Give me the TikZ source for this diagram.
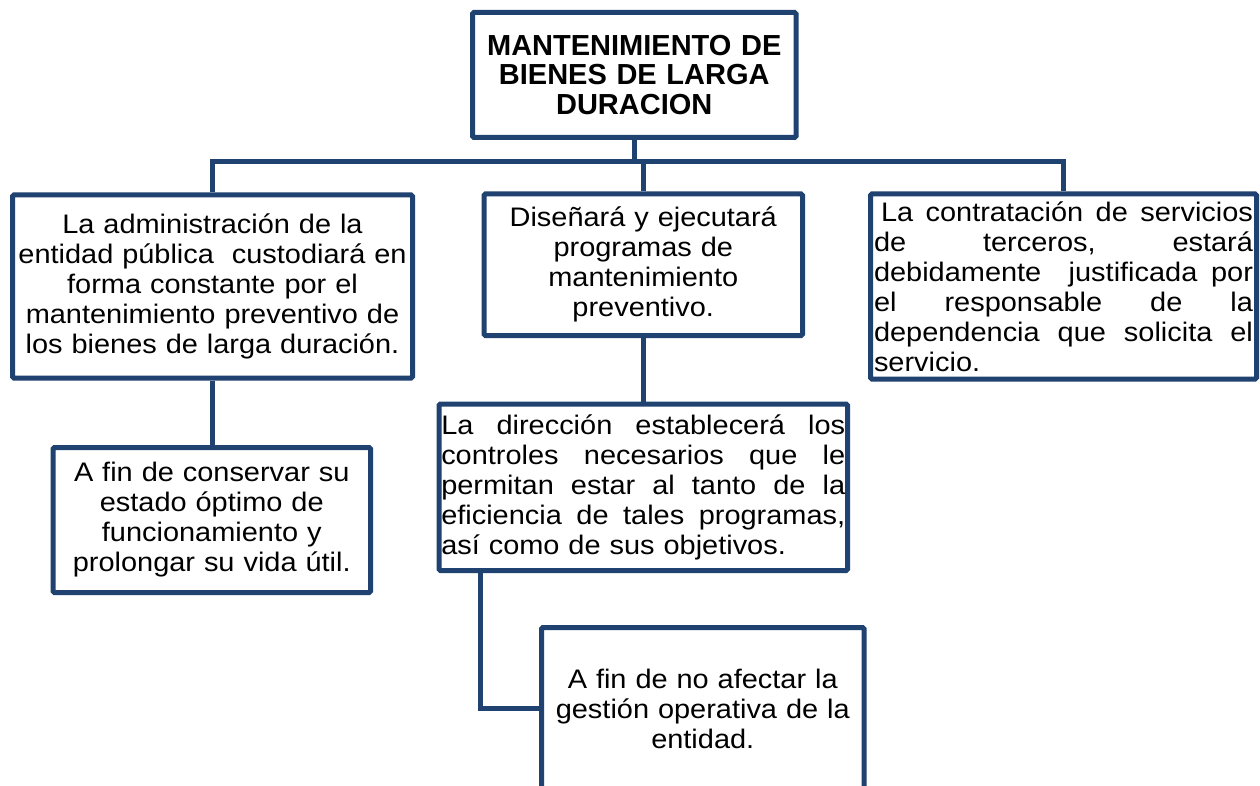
\documentclass[tikz,border=0pt]{standalone}
\usepackage{fontspec}
\setmainfont{Liberation Sans}
\newfontfamily\bodyfont{Liberation Sans}[FakeStretch=1.08]
\definecolor{navy}{RGB}{31,66,112}
\newcommand\jline[2]{\leavevmode\hbox to #1{#2}}
\tikzset{
  box/.style={draw=navy, line width=5pt, rounded corners=1.5pt, fill=white,
    inner sep=0pt, align=center, font=\bodyfont\fontsize{26.8}{30}\selectfont},
  titlebox/.style={box, font=\fontsize{29}{29.7}\selectfont\bfseries},
  conn/.style={draw=navy, line width=5pt, line join=miter}
}
\begin{document}
\begin{tikzpicture}[x=1pt,y=-1pt]
\useasboundingbox (0,0) rectangle (1260,786);
\clip (0,0) rectangle (1260,786);
\fill[white] (0,0) rectangle (1260,786);

\coordinate (bus) at (0,162);
\coordinate (elb) at (480.5,0);

\node[titlebox, minimum width=323.5pt, minimum height=125pt, text width=318pt] (top) at (634.25,75)
  {MANTENIMIENTO DE\\BIENES DE LARGA\\DURACION};

\node[box, minimum width=400pt, minimum height=183pt, text width=395pt] (left) at (212.5,286.5)
  {La administración de la\\entidad pública\ \ custodiará en\\forma constante por el\\mantenimiento preventivo de\\los bienes de larga duración.};

\node[box, minimum width=318.5pt, minimum height=141.5pt, text width=310pt] (mid) at (643.25,264.75)
  {Diseñará y ejecutará\\programas de\\mantenimiento\\preventivo.};

\node[box, align=left, minimum width=386pt, minimum height=185pt, text width=379pt] (right) at (1063.5,286.5)
  {\jline{379pt}{\hspace*{7pt}La\ \hfill contratación\ \hfill de\ \hfill servicios}\\
   \jline{379pt}{de\ \hfill terceros,\ \hfill estará}\\
   \jline{379pt}{debidamente\ \ \hfill\hfill justificada\ \hfill por}\\
   \jline{379pt}{el\ \hfill responsable\ \hfill de\ \hfill la}\\
   \jline{379pt}{dependencia\ \hfill que\ \hfill solicita\ \hfill el}\\
   servicio.};

\node[box, minimum width=317.5pt, minimum height=145pt, text width=310pt] (leftlow) at (211.75,520)
  {A fin de conservar su\\estado óptimo de\\funcionamiento y\\prolongar su vida útil.};

\node[box, align=left, minimum width=408.5pt, minimum height=166.5pt, text width=404pt] (midlow) at (643.25,487.25)
  {\jline{404pt}{La\ \hfill dirección\ \hfill establecerá\ \hfill los}\\
   \jline{404pt}{controles\ \hfill necesarios\ \hfill que\ \hfill le}\\
   \jline{404pt}{permitan\ \hfill estar\ \hfill al\ \hfill tanto\ \hfill de\ \hfill la}\\
   \jline{404pt}{eficiencia\ \hfill de\ \hfill tales\ \hfill programas,}\\
   así como de sus objetivos.};

\node[box, minimum width=322.5pt, minimum height=162pt, text width=316pt] (bottom) at (702.75,708.5)
  {A fin de no afectar la\\gestión operativa de la\\entidad.};

\draw[conn] (top.south) -- (top.south |- bus);
\draw[conn] (left.north) -- (left.north |- bus) -- (right.north |- bus) -- (right.north);
\draw[conn] (mid.north) -- (mid.north |- bus);
\draw[conn] (left.south) -- (left.south |- leftlow.north);
\draw[conn] (mid.south) -- (mid.south |- midlow.north);
\draw[conn] (midlow.south -| elb) |- (bottom.west);
\end{tikzpicture}
\end{document}
